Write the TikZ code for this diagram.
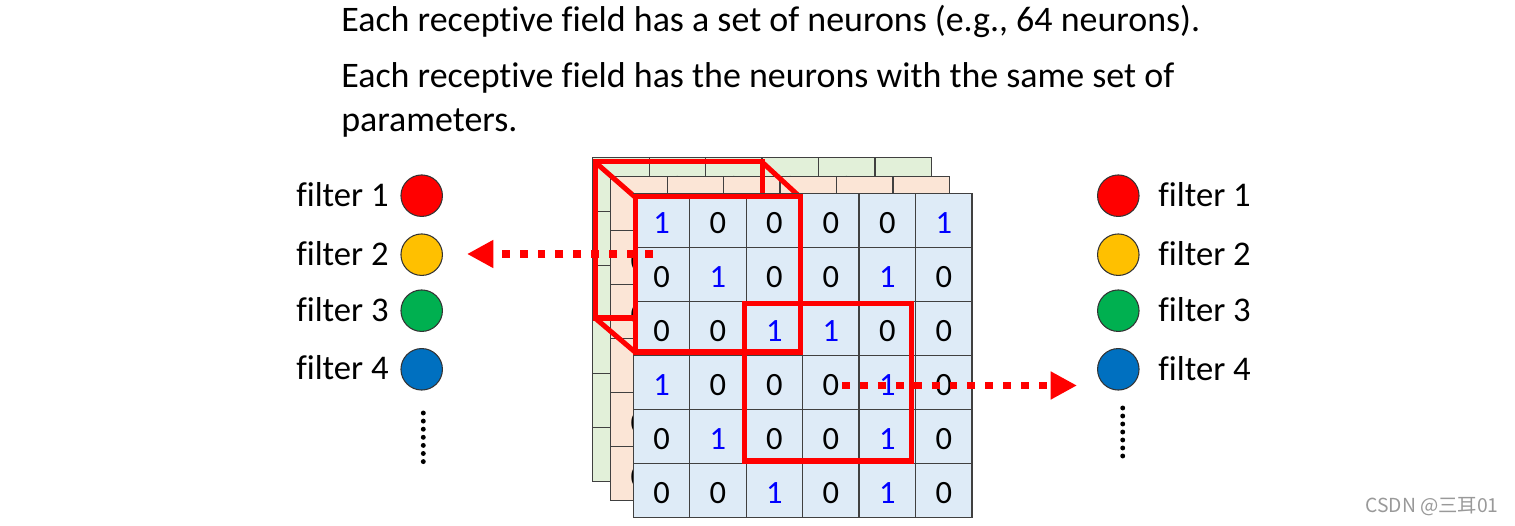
\documentclass[tikz,border=0pt]{standalone}
\usepackage{fontspec}
\setmainfont{Carlito}[Ligatures={NoCommon,NoRare}]
\newfontfamily\cjkfont{Noto Sans CJK SC}
\usetikzlibrary{arrows.meta}
\tikzset{>=latex}
\usepackage{xcolor}
\definecolor{gridline}{RGB}{64,64,64}
\definecolor{front}{RGB}{222,235,247}
\definecolor{mid}{RGB}{251,229,214}
\definecolor{back}{RGB}{226,240,217}
\definecolor{filt1}{RGB}{255,0,0}
\definecolor{filt2}{RGB}{255,192,0}
\definecolor{filt3}{RGB}{0,176,80}
\definecolor{filt4}{RGB}{0,112,192}
\tikzstyle{cell}=[draw=gridline,line width=0.7pt,minimum width=1.129cm,minimum height=1.08cm,inner sep=0pt,font=\fontsize{18.5}{18.5}\selectfont,text height=15.5pt]
\tikzstyle{field}=[draw=red,line width=2.85pt]
\tikzstyle{neuron}=[circle,draw=black!80,line width=0.6pt,minimum size=0.83cm,inner sep=0pt]
\tikzstyle{ftext}=[font=\fontsize{19.7}{20}\selectfont,inner sep=0pt]
\tikzstyle{share}=[red,line width=4.5pt,dash pattern=on 4.5pt off 5.7pt,-{Triangle[length=15pt,width=15pt]}]

\begin{document}
\begin{tikzpicture}[x=0.02cm,y=-0.02cm]
  \def\W{56.45}
  \def\H{54}
  \def\rows{{1,0,0,0,0,1},{0,1,0,0,1,0},{0,0,1,1,0,0},{1,0,0,0,1,0},{0,1,0,0,1,0},{0,0,1,0,1,0}}

  \useasboundingbox (0,0) rectangle (1515,526);

  % TEXT
  \node[ftext,anchor=base west,font=\fontsize{20.45}{20}\selectfont] (line1) at (341,31.7) {Each receptive field has a set of neurons (e.g., 64 neurons).};
  \node[ftext,anchor=base west,font=\fontsize{20.45}{20}\selectfont] (line2) at (341,88) {Each receptive field has the neurons with the same set of};
  \node[ftext,anchor=base west,font=\fontsize{20.45}{20}\selectfont] (line3) at (341,131.7) {parameters.};

  % BACK LAYERS
  \foreach \lay/\dx/\dy in {back/-40.6/-36, mid/-22.6/-16.6}{
    \foreach \row [count=\r] in \rows{
      \foreach \v [count=\c] in \row{
        \node[cell,fill=\lay] (\lay-\r-\c) at (633.3+\dx+\c*\W-0.5*\W, 193.3+\dy+\r*\H-0.5*\H) {\ifnum\v=1 \color{blue}\fi\v};
      }
    }
  }

  % RECEPTIVE FIELD
  \coordinate (B1) at (595,162);
  \coordinate (B2) at (762,318);
  \coordinate (F1) at (635,197);
  \coordinate (F2) at (800,352);
  \coordinate (G1) at (744,304);
  \coordinate (G2) at (911,461);
  \draw[field] (B1) rectangle (B2);
  \draw[field] (B1) -- (F1);
  \draw[field] (B1 -| B2) -- (F1 -| F2);
  \draw[field] (B1 |- B2) -- (F1 |- F2);

  % FRONT LAYER
  \foreach \lay/\dx/\dy in {front/0/0}{
    \foreach \row [count=\r] in \rows{
      \foreach \v [count=\c] in \row{
        \node[cell,fill=\lay] (\lay-\r-\c) at (633.3+\dx+\c*\W-0.5*\W, 193.3+\dy+\r*\H-0.5*\H) {\ifnum\v=1 \color{blue}\fi\v};
      }
    }
  }
  \draw[field] (F1) rectangle (F2);
  \draw[field] (G1) rectangle (G2);

  % FILTERS
  \foreach \i/\y in {1/195.7, 2/254.7, 3/310.7, 4/369.3}{
    \node[neuron,fill=filt\i] (L\i) at (421.7,\y) {};
    \node[ftext,anchor=base east] (LT\i) at (389,\y+10.5) {filter \i};
    \node[neuron,fill=filt\i] (R\i) at (1118.3,\y) {};
    \node[ftext,anchor=base west] (RT\i) at (1158,\y+11) {filter \i};
  }
  \foreach \k in {0,...,6}{
    \fill (423.3,413+\k*8.1) circle (1.4pt);
    \fill (1122.7,408+\k*8) circle (1.4pt);
  }

  % SHARED PARAMETERS
  \coordinate (LS) at (653,254);
  \coordinate (LE) at (467,254);
  \coordinate (RS) at (842,385.5);
  \coordinate (RE) at (1077,385.5);
  \draw[share] (LS) -- (LE);
  \draw[share] (RS) -- (RE);

  \node[anchor=base west,text=black!40,font=\cjkfont\fontsize{11}{11}\selectfont,inner sep=0pt] (mark) at (1365,513) {CSDN @三耳01};
\end{tikzpicture}
\end{document}
